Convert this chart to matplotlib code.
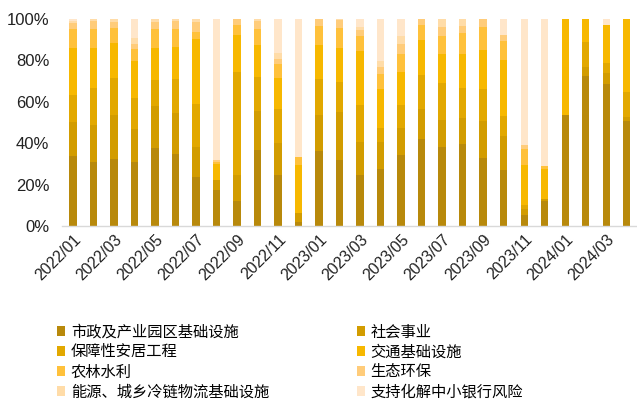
import numpy as np
import matplotlib
matplotlib.use('Agg')
import matplotlib.pyplot as plt
from matplotlib.patches import Patch

plt.rcParams['font.family'] = ['Liberation Sans', 'DejaVu Sans']

# months 2022/01 .. 2024/04
months = ['2022/01', '2022/02', '2022/03', '2022/04', '2022/05', '2022/06', '2022/07',
          '2022/08', '2022/09', '2022/10', '2022/11', '2022/12', '2023/01', '2023/02',
          '2023/03', '2023/04', '2023/05', '2023/06', '2023/07', '2023/08', '2023/09',
          '2023/10', '2023/11', '2023/12', '2024/01', '2024/02', '2024/03', '2024/04']

categories = ['市政及产业园区基础设施', '社会事业', '保障性安居工程', '交通基础设施',
              '农林水利', '生态环保', '能源、城乡冷链物流基础设施', '支持化解中小银行风险']

colors = ['#B8890B', '#D29C00', '#E2A800', '#F7B800',
          '#FFC13B', '#FFCC7A', '#FFDCA8', '#FFE6CA']

# share of each use (%)
shizheng = [34, 31, 32.5, 30.4, 37.8, 34.9, 23.6, 17.5, 11.9, 36.8, 24.8, 2, 36, 32,
            24.4, 27.7, 34.4, 42.1, 38.1, 39.7, 32.8, 27.2, 5.1, 11.9, 53.7, 72.3, 68.6, 50.5]
shehui = [16, 17.6, 21, 16.1, 20, 19.8, 14.5, 4.5, 12.9, 18.7, 15.4, 4.5, 17.7, 23,
          16.1, 12.8, 13, 14.5, 12.9, 12.4, 17.8, 16.2, 3.3, 1, 0, 4.4, 5.2, 2.1]
baozhang = [13, 18, 18, 14.5, 12.7, 16.4, 20.9, 0, 49.5, 16.4, 16.4, 0, 17, 14.5,
            17.7, 6.8, 11.1, 16.4, 18, 14.5, 15.6, 9.6, 1.9, 0, 0, 12, 4.8, 12]
jiaotong = [23, 19.3, 17, 17.6, 15.3, 15.2, 31.4, 8, 18, 15.6, 15.1, 23, 16.4, 16.5,
            26, 18.9, 15.8, 16.5, 14.1, 16.5, 18.8, 27.2, 19.3, 14.5, 46.3, 11.3, 18.2, 35.4]
nonglin = [9, 9.3, 7, 6.1, 9.3, 8.6, 3.2, 1, 4.5, 7.7, 6.5, 4, 9.4, 9.5,
           7.4, 7.3, 8.8, 7.3, 8.5, 10.1, 11, 9, 7.4, 1.5, 0, 0, 0, 0]
shengtai = [3, 3.5, 3, 2.3, 3.2, 3.8, 4.8, 1, 3.2, 3.5, 2.4, 0, 3.5, 3.7,
            2.8, 3.2, 4.5, 3.2, 4.4, 3.3, 4, 2.8, 1.9, 0, 0, 0, 0, 0]
nengyuan = [1, 1.3, 1.5, 3, 1.6, 1.3, 1.6, 0, 0, 1.3, 2.9, 0, 0, 0.8,
            1.6, 3, 4, 0, 4, 3.5, 0, 0, 0, 0, 0, 0, 0, 0]
zhichi = [1, 0, 0, 9, 0, 0, 0, 68, 0, 0, 16.7, 66.5, 0, 0,
          4, 20.3, 8.4, 0, 0, 0, 0, 8, 61, 71, 0, 0, 3.2, 0]

data = np.array([shizheng, shehui, baozhang, jiaotong, nonglin, shengtai, nengyuan, zhichi])
pct = data / data.sum(axis=0) * 100

fig = plt.figure(figsize=(6.37, 4.01), dpi=100)
ax = fig.add_axes([0.0969, 0.4364, 0.9031, 0.517])

x = np.arange(len(months))
bottom = np.zeros(len(months))
for vals, c in zip(pct, colors):
    ax.bar(x, vals, bottom=bottom, width=0.36, color=c, linewidth=0)
    bottom += vals

ax.set_xlim(-0.55, len(months) - 0.5)
ax.set_ylim(0, 100)
ax.set_yticks(np.arange(0, 101, 20))
ax.set_yticklabels(['{}%'.format(v) for v in range(0, 101, 20)], fontsize=12, color='#222222')
ax.set_xticks(x[::2])
ax.set_xticklabels(months[::2], rotation=45, ha='right', rotation_mode='anchor',
                   fontsize=11.5, color='#222222')
ax.tick_params(axis='y', length=0, pad=9)
ax.tick_params(axis='x', length=0, pad=4)
for s in ['top', 'right', 'left']:
    ax.spines[s].set_visible(False)
ax.spines['bottom'].set_color('#D9D9D9')
ax.spines['bottom'].set_linewidth(1)

# legend filled row by row in the reference -> reorder for column-first fill
order = [0, 2, 4, 6, 1, 3, 5, 7]
handles = [Patch(facecolor=colors[i], label=categories[i]) for i in order]
fig.legend(handles=handles, ncol=2, loc='upper left', bbox_to_anchor=(0.068, 0.228),
           frameon=False, handlelength=0.55, handleheight=0.55, handletextpad=0.35,
           labelspacing=0.2, columnspacing=5.75,
           prop={'family': ['Noto Sans CJK SC', 'DejaVu Sans'], 'size': 11})

fig.savefig('out.png', dpi=100)
